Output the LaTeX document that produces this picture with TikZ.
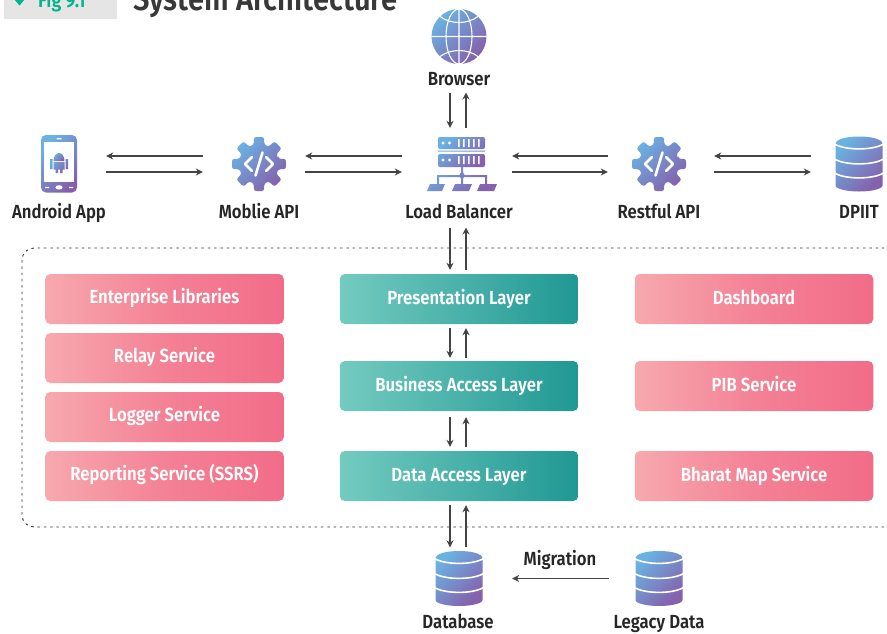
\documentclass[tikz,border=0pt]{standalone}
\usepackage{fontspec}
\setmainfont{Fira Sans}[FakeStretch=0.88,BoldFont={Fira Sans SemiBold}]
\usetikzlibrary{arrows.meta}
\definecolor{icontop}{HTML}{6AB2E2}
\definecolor{iconbot}{HTML}{8560AC}
\definecolor{flowcol}{HTML}{444444}
\definecolor{figgreen}{HTML}{00B48C}
\tikzset{
	iconfill/.style={draw=none,top color=icontop,bottom color=iconbot,middle color=icontop!50!iconbot,shading angle=45},
	pinkbox/.style={draw=none,rounded corners=5,minimum width=238.5,minimum height=50,left color=pink1,right color=pink2,middle color=pink1!35!pink2,text=white,text height=13,text depth=4,font=\bfseries\fontsize{19}{21}\selectfont},
	sidebox/.style={pinkbox,text height=14.5},
	tealbox/.style={sidebox,left color=teal1,right color=teal2},
	iconbox/.style={minimum width=100,minimum height=56,inner sep=0},
	namelbl/.style={anchor=base,inner sep=0,font=\bfseries\fontsize{19}{21}\selectfont,text=black!85},
	flow/.style={draw=flowcol,line width=1.1,-{Stealth[length=7,width=7]}},
	dbicon/.pic={
		\shade[iconfill] (-23.5,-20) .. controls (-23.5,-25) and (-12,-27.5) .. (0,-27.5) .. controls (12,-27.5) and (23.5,-25) .. (23.5,-20)
			-- (23.5,21.5) .. controls (23.5,25) and (12,27.5) .. (0,27.5) .. controls (-12,27.5) and (-23.5,25) .. (-23.5,21.5) -- cycle;
		\foreach \ya in {-20,-5,9}
			\draw[white,line width=1.6] (-24.5,\ya) .. controls (-14,{\ya+6.5}) and (14,{\ya+6.5}) .. (24.5,\ya);
	},
	gearicon/.pic={
		\shade[iconfill,rounded corners=2.5] (-15:20)
			\foreach \a in {0,45,...,315} { -- (\a-15:20) -- (\a-11:27.5) -- (\a+11:27.5) -- (\a+15:20) } -- cycle;
		\draw[white,line width=2.6,line cap=round,line join=round] (-7,-7) -- (-14,0) -- (-7,7) (7,-7) -- (14,0) -- (7,7) (3.5,-11.5) -- (-3.5,11.5);
	},
	globeicon/.pic={
		\shade[iconfill] (0,0) circle (27.5);
		\draw[white,line width=1.1] (0,-27.5) -- (0,27.5) (-27.5,0) -- (27.5,0) (0,0) ellipse (13 and 27.5);
		\draw[white,line width=1.1] (-19,-20) .. controls (-8,-12) and (8,-12) .. (19,-20) (-19,20) .. controls (-8,12) and (8,12) .. (19,20);
	},
	phoneicon/.pic={
		\shade[iconfill] (-18,-29) [rounded corners=5] rectangle (18,28.5);
		\fill[white] (-15,-22) rectangle (15,18);
		\fill[white] (-2.5,-25.8) rectangle (2.5,-24.6) (-14,22.8) rectangle (-10,24) (10,22.8) rectangle (14,24);
		\fill[white] (0,23.4) ellipse (3.6 and 2.2);
		\shade[iconfill] (-5.5,-3) arc (180:360:5.5 and 8) -- cycle;
		\shade[iconfill] (-5.5,-2) rectangle (5.5,5.5) (-3.5,5) rectangle (-1,9) (1,5) rectangle (3.5,9)
			(-9,-5) rectangle (-6.5,5) (6.5,-5) rectangle (9,5);
	},
	servericon/.pic={
		\shade[iconfill] [rounded corners=2] (-21,-27) rectangle (26,-15) (-21,-10) rectangle (26,3);
		\shade[iconfill] (-21,-13.4) rectangle (26,-12.4) (2,3) rectangle (4,13) (-22,11) rectangle (28,13)
			(-22,11) rectangle (-20,20) (2,11) rectangle (4,20) (26,11) rectangle (28,20)
			(-29,20) -- (-14,20) -- (-17,27) -- (-32,27) -- cycle
			(-4,20) -- (13,20) -- (10,27) -- (-7,27) -- cycle
			(21,20) -- (38,20) -- (35,27) -- (18,27) -- cycle;
		\fill[iconbot!60!icontop] (3,7) -- (6,11.5) -- (3,16) -- (0,11.5) -- cycle;
		\fill[white] (-16,-21) circle (1.6) (-9.5,-21) circle (1.6) (-16,-4) circle (1.6) (-9.5,-4) circle (1.6);
		\foreach \xa in {-1,4,...,19}
			\fill[white] (\xa,-25) rectangle ++(1.6,8) (\xa,-8) rectangle ++(1.6,8);
	}
}
\definecolor{pink1}{HTML}{F7A9AE}
\definecolor{pink2}{HTML}{F26C88}
\definecolor{teal1}{HTML}{74CBC0}
\definecolor{teal2}{HTML}{1F9893}
\begin{document}
\begin{tikzpicture}[x=1pt,y=-1pt]
	\useasboundingbox (0,0) rectangle (887,633);
	\clip (0,0) rectangle (887,633);
	\fill[black!10] (4,-5) rectangle (117,19);
	\fill[figgreen] (14,-1) -- (25,-1) -- (19.5,5.5) -- cycle;
	\node[anchor=base west,inner sep=0,text=figgreen,font=\bfseries\fontsize{20.5}{22}\selectfont] (fig) at (38,7) {Fig 9.1};
	\node[anchor=base west,inner sep=0,text=black!78,font=\bfseries\fontsize{33}{36}\selectfont] (title) at (133,10) {System Architecture};
	\draw[black!80,line width=.9,dash pattern=on 2.5 off 3.8,rounded corners=12] (22,248) rectangle (900,527);
	% icons
	\node[iconbox] (browser) at (459,36.5) {};
	\node[iconbox] (android) at (59,164) {};
	\node[iconbox] (mobile) at (259,164) {};
	\node[iconbox] (balancer) at (459,164) {};
	\node[iconbox] (restful) at (659,164) {};
	\node[iconbox] (dpiit) at (859,164) {};
	\node[iconbox] (database) at (459,578.5) {};
	\node[iconbox] (legacy) at (659,578.5) {};
	\pic at (browser) {globeicon};
	\pic at (android) {phoneicon};
	\pic at (mobile) {gearicon};
	\pic at (balancer) {servericon};
	\pic at (restful) {gearicon};
	\pic at (dpiit) {dbicon};
	\pic at (database) {dbicon};
	\pic at (legacy) {dbicon};
	% names
	\node[namelbl] (browserlbl) at (459,85) {Browser};
	\node[namelbl] (androidlbl) at (59,218) {Android App};
	\node[namelbl] (mobilelbl) at (259,218) {Moblie API};
	\node[namelbl] (balancerlbl) at (459,218) {Load Balancer};
	\node[namelbl] (restfullbl) at (659,218) {Restful API};
	\node[namelbl] (dpiitlbl) at (859,218) {DPIIT};
	\node[namelbl] (databaselbl) at (458,628) {Database};
	\node[namelbl] (legacylbl) at (659,628) {Legacy Data};
	\node[namelbl] (migration) at (560,565) {Migration};
	% boxes
	\node[pinkbox] (libraries) at (164.5,299) {Enterprise Libraries};
	\node[pinkbox] (relay) at (164.5,358) {Relay Service};
	\node[pinkbox] (logger) at (164.5,417) {Logger Service};
	\node[pinkbox] (reporting) at (164.5,476) {Reporting Service (SSRS)};
	\node[tealbox] (presentation) at (459,299) {Presentation Layer};
	\node[tealbox] (business) at (459,386) {Business Access Layer};
	\node[tealbox] (dataaccess) at (459,476) {Data Access Layer};
	\node[sidebox] (dashboard) at (754,299) {Dashboard};
	\node[sidebox] (pib) at (754,386) {PIB Service};
	\node[sidebox] (bharat) at (754,476) {Bharat Map Service};
	% horizontal links
	\draw[flow] ([shift={(-6,-8)}]mobile.west) -- ([shift={(-3,-8)}]android.east);
	\draw[flow] ([shift={(-3,8)}]android.east) -- ([shift={(-6,8)}]mobile.west);
	\draw[flow] ([shift={(-7,-8)}]balancer.west) -- ([shift={(-4,-8)}]mobile.east);
	\draw[flow] ([shift={(-4,8)}]mobile.east) -- ([shift={(-7,8)}]balancer.west);
	\draw[flow] ([shift={(-1,-8)}]restful.west) -- ([shift={(3,-8)}]balancer.east);
	\draw[flow] ([shift={(3,8)}]balancer.east) -- ([shift={(-1,8)}]restful.west);
	\draw[flow] ([shift={(2,-8)}]dpiit.west) -- ([shift={(5,-8)}]restful.east);
	\draw[flow] ([shift={(5,8)}]restful.east) -- ([shift={(2,8)}]dpiit.west);
	% vertical links
	\draw[flow] ([shift={(-9,7)}]browserlbl.south) -- ([shift={(-9,-8)}]balancer.north);
	\draw[flow] ([shift={(7,-8)}]balancer.north) -- ([shift={(7,7)}]browserlbl.south);
	\draw[flow] ([shift={(-9,9)}]balancerlbl.south) -- ([shift={(-9,-4)}]presentation.north);
	\draw[flow] ([shift={(7,-4)}]presentation.north) -- ([shift={(7,9)}]balancerlbl.south);
	\draw[flow] ([shift={(-9,4)}]presentation.south) -- ([shift={(-9,-3)}]business.north);
	\draw[flow] ([shift={(7,-3)}]business.north) -- ([shift={(7,4)}]presentation.south);
	\draw[flow] ([shift={(-9,6)}]business.south) -- ([shift={(-9,-4)}]dataaccess.north);
	\draw[flow] ([shift={(7,-4)}]dataaccess.north) -- ([shift={(7,6)}]business.south);
	\draw[flow] ([shift={(-9,4)}]dataaccess.south) -- ([shift={(-9,-3)}]database.north);
	\draw[flow] ([shift={(7,-3)}]database.north) -- ([shift={(7,4)}]dataaccess.south);
	\draw[flow] (legacy.west) -- ([xshift=3]database.east);
\end{tikzpicture}
\end{document}
